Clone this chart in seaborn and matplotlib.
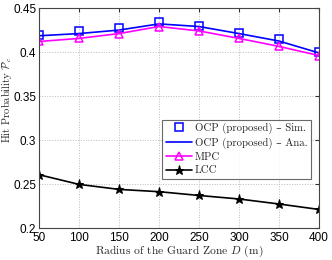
import pandas as pd
import matplotlib.pyplot as plt
import seaborn as sns

RADIUS = [50, 100, 150, 200, 250, 300, 350, 400]
OCP_SIM = [0.419, 0.424, 0.427, 0.4345, 0.430, 0.422, 0.415, 0.400]
OCP_ANA = [0.4185, 0.421, 0.425, 0.432, 0.429, 0.421, 0.4125, 0.399]
MPC = [0.412, 0.4155, 0.421, 0.429, 0.424, 0.4155, 0.4064, 0.396]
LCC = [0.2606, 0.2496, 0.2439, 0.2413, 0.237, 0.233, 0.2273, 0.2211]

XTICKS = [50, 100, 150, 200, 250, 300, 350, 400]
YTICKS = [0.2, 0.25, 0.3, 0.35, 0.4, 0.45]
YTICKLABELS = ["0.2", "0.25", "0.3", "0.35", "0.4", "0.45"]

SERIF = ["cmr10", "DejaVu Serif"]


def main():
    sns.set_style("white")
    plt.rcParams["mathtext.fontset"] = "cm"
    plt.rcParams["font.family"] = ["Liberation Sans", "DejaVu Sans"]
    plt.rcParams["axes.unicode_minus"] = False

    df = pd.DataFrame(
        {"r": RADIUS, "sim": OCP_SIM, "ana": OCP_ANA, "mpc": MPC, "lcc": LCC}
    )

    fig = plt.figure(figsize=(3.32, 2.60), dpi=100)
    ax = fig.add_axes([0.1175, 0.123, 0.8435, 0.846])

    sns.lineplot(data=df, x="r", y="sim", ax=ax, linestyle="", marker="s",
                 markersize=6, markerfacecolor="none", markeredgecolor="#0000ff",
                 markeredgewidth=1.1, color="#0000ff",
                 label="OCP (proposed) – Sim.")
    sns.lineplot(data=df, x="r", y="ana", ax=ax, color="#0000ff", linewidth=1.2,
                 label="OCP (proposed) – Ana.")
    sns.lineplot(data=df, x="r", y="mpc", ax=ax, color="#ff00ff", linewidth=1.2,
                 marker="^", markersize=6, markerfacecolor="none",
                 markeredgecolor="#ff00ff", markeredgewidth=1.1, label="MPC")
    sns.lineplot(data=df, x="r", y="lcc", ax=ax, color="black", linewidth=1.2,
                 marker="*", markersize=6.5, markeredgecolor="black",
                 markerfacecolor="black", label="LCC")

    ax.set_xlim(50, 400)
    ax.set_ylim(0.2, 0.45)
    ax.set_xticks(XTICKS)
    ax.set_yticks(YTICKS)
    ax.set_yticklabels(YTICKLABELS)
    ax.tick_params(labelsize=8.5, direction="in", length=3, pad=2,
                   top=True, right=True, colors="#333333")
    ax.tick_params(axis="x", pad=3)
    for lbl in ax.get_xticklabels() + ax.get_yticklabels():
        lbl.set_color("black")
    ax.grid(True, linestyle=":", color="#bbbbbb", linewidth=0.7)
    for s in ax.spines.values():
        s.set_color("#444444")
        s.set_linewidth(0.8)

    ax.set_xlabel("Radius of the Guard Zone $D$ (m)", family=SERIF, fontsize=8.3,
                  labelpad=0)
    ax.set_ylabel(r"Hit Probability $\mathcal{P}_c$", family=SERIF, fontsize=7.6)
    ax.yaxis.set_label_coords(-0.091, 0.586)

    leg = ax.legend(loc="lower right", bbox_to_anchor=(0.99, 0.2),
                    prop={"family": SERIF, "size": 7.8}, frameon=True,
                    fancybox=False, edgecolor="#444444", borderpad=0.3,
                    labelspacing=0.33, handlelength=2.4, handletextpad=0.3)
    leg.get_frame().set_linewidth(0.8)

    fig.savefig("out.png", dpi=100)


if __name__ == "__main__":
    main()
